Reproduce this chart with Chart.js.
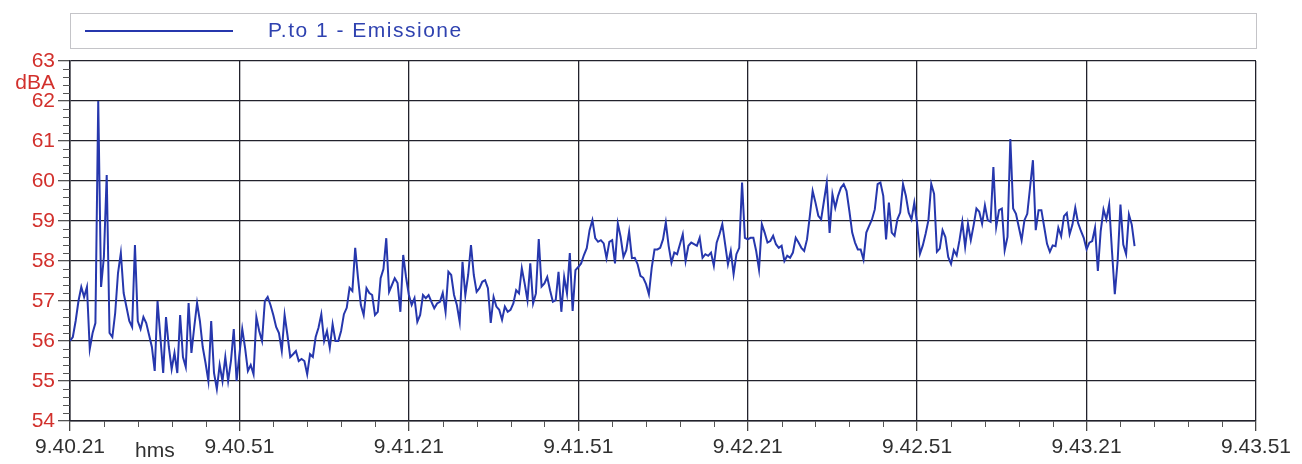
<!DOCTYPE html>
<html>
<head>
<meta charset="utf-8">
<title>P.to 1 - Emissione</title>
<script src="https://cdn.jsdelivr.net/npm/chart.js@4.4.1/dist/chart.umd.min.js"></script>
<style>
  html, body { margin: 0; padding: 0; background: #ffffff; }
  #wrap { width: 1302px; height: 464px; }
</style>
</head>
<body>
<div id="wrap"><canvas id="chart" width="1302" height="464"></canvas></div>
<script>
// Sound level record, one reading every half second starting at 9.40.21
const seriesName = 'P.to 1 - Emissione';
const startClock = '9.40.21';
const sampleStep = 0.5; // seconds between readings
const timeLabels = ['9.40.21', '9.40.51', '9.41.21', '9.41.51', '9.42.21', '9.42.51', '9.43.21', '9.43.51'];
const levelTicks = [54, 55, 56, 57, 58, 59, 60, 61, 62, 63];
const levels = [
  56.0, 56.1, 56.5, 57.0, 57.35, 57.1, 57.35, 55.8, 56.2, 56.45,
  62.0, 57.35, 58.1, 60.15, 56.2, 56.1, 56.7, 57.7, 58.2, 57.2,
  56.85, 56.5, 56.35, 58.4, 56.5, 56.3, 56.6, 56.45, 56.15, 55.85,
  55.25, 57.0, 56.1, 55.2, 56.6, 55.85, 55.3, 55.7, 55.2, 56.65,
  55.6, 55.35, 56.95, 55.7, 56.35, 56.95, 56.5, 55.85, 55.45, 55.0,
  56.5, 55.2, 54.8, 55.4, 55.0, 55.6, 55.0, 55.5, 56.3, 55.0,
  55.67, 56.3, 55.83, 55.25, 55.4, 55.17, 56.6, 56.25, 56.0, 57.0,
  57.1, 56.9, 56.65, 56.35, 56.2, 55.75, 56.65, 56.15, 55.6, 55.67,
  55.75, 55.5, 55.55, 55.5, 55.17, 55.67, 55.6, 56.1, 56.33, 56.67,
  56.0, 56.25, 55.83, 56.42, 56.0, 56.0, 56.25, 56.67, 56.83, 57.33,
  57.25, 58.33, 57.57, 56.9, 56.65, 57.32, 57.2, 57.15, 56.65, 56.73,
  57.57, 57.8, 58.57, 57.23, 57.4, 57.57, 57.45, 56.73, 58.15, 57.6,
  57.15, 56.9, 57.07, 56.48, 56.65, 57.15, 57.07, 57.15, 56.98, 56.82,
  56.94, 56.98, 57.2, 56.73, 57.73, 57.65, 57.15, 56.9, 56.48, 57.98,
  57.15, 57.65, 58.4, 57.65, 57.23, 57.32, 57.48, 57.52, 57.32, 56.45,
  57.1, 56.86, 56.78, 56.53, 56.86, 56.73, 56.78, 56.94, 57.27, 57.19,
  57.82, 57.44, 57.02, 57.94, 56.94, 57.19, 58.55, 57.36, 57.44, 57.6,
  57.27, 56.98, 57.02, 57.73, 56.73, 57.6, 57.19, 58.2, 56.75, 57.77,
  57.85, 57.94, 58.15, 58.32, 58.77, 59.02, 58.57, 58.48, 58.52, 58.44,
  58.07, 58.48, 58.52, 57.94, 58.94, 58.6, 58.1, 58.27, 58.73, 58.07,
  58.08, 57.92, 57.63, 57.58, 57.42, 57.17, 57.83, 58.29, 58.29, 58.33,
  58.54, 58.96, 58.38, 57.96, 58.21, 58.17, 58.42, 58.67, 58.0, 58.38,
  58.46, 58.42, 58.38, 58.58, 58.08, 58.17, 58.13, 58.21, 57.88, 58.46,
  58.67, 58.92, 58.42, 57.92, 58.25, 57.67, 58.17, 58.33, 59.96, 58.58,
  58.54, 58.58, 58.58, 58.25, 57.79, 58.92, 58.71, 58.46, 58.5, 58.63,
  58.42, 58.33, 58.38, 58.0, 58.13, 58.08, 58.21, 58.58, 58.46, 58.33,
  58.25, 58.54, 59.13, 59.75, 59.46, 59.13, 59.04, 59.5, 59.96, 58.7,
  59.67, 59.33, 59.63, 59.83, 59.92, 59.75, 59.25, 58.71, 58.46, 58.29,
  58.29, 58.04, 58.71, 58.88, 59.04, 59.29, 59.92, 59.96, 59.63, 58.54,
  59.46, 58.71, 58.63, 59.04, 59.21, 59.92, 59.63, 59.21, 59.04, 59.46,
  58.93, 58.18, 58.39, 58.68, 59.02, 59.93, 59.68, 58.23, 58.31, 58.77,
  58.6, 58.1, 57.93, 58.27, 58.14, 58.52, 58.98, 58.35, 58.93, 58.52,
  58.89, 59.31, 59.23, 58.93, 59.39, 59.02, 58.98, 60.35, 58.85, 59.27,
  59.31, 58.27, 58.6, 61.05, 59.31, 59.18, 58.85, 58.52, 59.02, 59.18,
  59.85, 60.52, 58.77, 59.27, 59.27, 58.85, 58.43, 58.23, 58.39, 58.37,
  58.83, 58.62, 59.12, 59.2, 58.67, 58.91, 59.33, 58.95, 58.75, 58.58,
  58.29, 58.46, 58.5, 58.83, 57.75, 58.75, 59.29, 59.04, 59.41, 58.25,
  57.17, 58.0, 59.41, 58.41, 58.17, 59.16, 58.91, 58.37
];

const tickSpan = 30;   // seconds between labelled times
const LINE_BLUE = '#2637ad';
const LABEL_RED = '#d2302c';
const GRID = '#22222c';
const FONT = "'Liberation Sans', Arial, sans-serif";

const points = levels.map((v, i) => ({ x: i * sampleStep, y: v }));

// Framed legend, unit caption, time caption and minor tick marks
const decorations = {
  id: 'decorations',
  afterDraw(chart) {
    const { ctx, chartArea: a, scales } = chart;
    const xs = scales.x, ys = scales.y;
    ctx.save();

    // legend frame
    ctx.strokeStyle = '#c4c4c8';
    ctx.lineWidth = 1;
    ctx.strokeRect(a.left + 0.5, 13.5, a.right - a.left, 35);
    const ds = chart.data.datasets[0];
    ctx.strokeStyle = ds.borderColor;
    ctx.lineWidth = 2;
    ctx.beginPath();
    ctx.moveTo(a.left + 15, 31);
    ctx.lineTo(a.left + 163, 31);
    ctx.stroke();
    ctx.fillStyle = '#2f42b0';
    ctx.font = '21px ' + FONT;
    ctx.textBaseline = 'middle';
    ctx.textAlign = 'left';
    if ('letterSpacing' in ctx) ctx.letterSpacing = '1.5px';
    ctx.fillText(ds.label, a.left + 198, 31);
    if ('letterSpacing' in ctx) ctx.letterSpacing = '0px';

    // unit caption under the top value
    ctx.fillStyle = LABEL_RED;
    ctx.font = '21px ' + FONT;
    ctx.textAlign = 'right';
    ctx.fillText('dBA', a.left - 15, ys.getPixelForValue(62.45));

    // time unit caption next to the first time label
    ctx.fillStyle = '#303030';
    ctx.font = '21px ' + FONT;
    ctx.textAlign = 'left';
    ctx.fillText('hms', xs.getPixelForValue(0) + 65, a.bottom + 30);

    // minor ticks
    ctx.strokeStyle = '#555';
    ctx.lineWidth = 1;
    ctx.beginPath();
    for (let k = 0; k < (ys.max - ys.min) * 5; k++) {
      if (k % 5 === 0) continue;
      const y = Math.round(ys.getPixelForValue(ys.min + k * 0.2)) + 0.5;
      ctx.moveTo(a.left - 7, y);
      ctx.lineTo(a.left, y);
    }
    for (let k = 0; k < (xs.max - xs.min) / 6; k++) {
      if (k % 5 === 0) continue;
      const x = Math.round(xs.getPixelForValue(xs.min + k * 6)) + 0.5;
      ctx.moveTo(x, a.bottom);
      ctx.lineTo(x, a.bottom + 6);
    }
    ctx.stroke();
    ctx.restore();
  }
};

new Chart(document.getElementById('chart'), {
  type: 'line',
  data: {
    datasets: [{
      label: seriesName,
      data: points,
      borderColor: LINE_BLUE,
      backgroundColor: LINE_BLUE,
      borderWidth: 2,
      pointRadius: 0,
      tension: 0,
      fill: false
    }]
  },
  options: {
    responsive: false,
    animation: false,
    layout: { padding: { top: 61, right: 46, left: 0, bottom: 0 } },
    plugins: {
      legend: { display: false },
      tooltip: { enabled: false }
    },
    scales: {
      x: {
        type: 'linear',
        min: 0,
        max: tickSpan * (timeLabels.length - 1),
        afterFit(scale) { scale.height = 43; },
        afterBuildTicks(scale) {
          scale.ticks = timeLabels.map((t, i) => ({ value: i * tickSpan }));
        },
        ticks: {
          color: '#303030',
          font: { size: 21, family: FONT },
          padding: 4,
          maxRotation: 0,
          autoSkip: false,
          callback: (v, i) => timeLabels[i]
        },
        grid: { color: GRID, lineWidth: 1.3, tickLength: 10, tickColor: '#444' },
        border: { color: GRID, width: 1.5 }
      },
      y: {
        min: levelTicks[0],
        max: levelTicks[levelTicks.length - 1],
        afterFit(scale) { scale.width = 70; },
        afterBuildTicks(scale) {
          scale.ticks = levelTicks.map(v => ({ value: v }));
        },
        ticks: {
          color: LABEL_RED,
          font: { size: 21, family: FONT },
          padding: 3,
          callback: v => String(v)
        },
        grid: { color: GRID, lineWidth: 1.3, tickLength: 12, tickColor: '#555' },
        border: { color: GRID, width: 1.5 }
      }
    }
  },
  plugins: [decorations]
});
</script>
</body>
</html>
